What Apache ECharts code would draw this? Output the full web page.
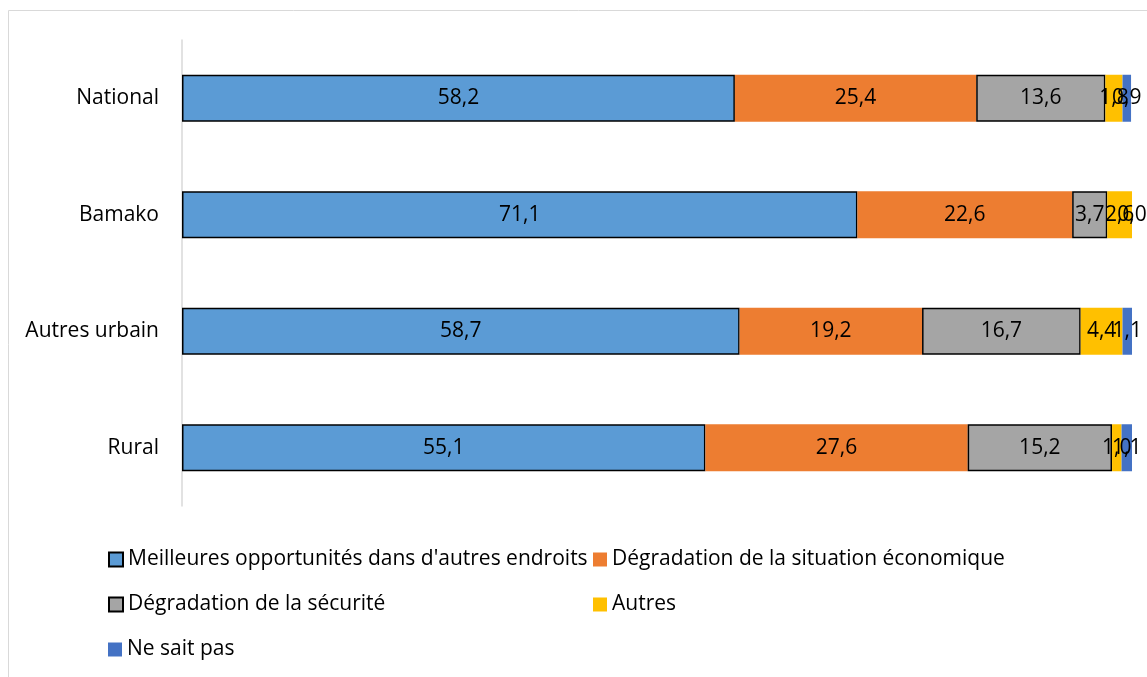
<!DOCTYPE html>
<html><head><meta charset="utf-8">
<script src="https://cdn.jsdelivr.net/npm/echarts@6/dist/echarts.min.js"></script>
<style>html,body{margin:0;padding:0;background:#fff}#c{width:1147px;height:677px}</style>
</head><body><div id="c"></div>
<script>
const categories = ['National', 'Bamako', 'Autres urbain', 'Rural'];
const seriesNames = [
  "Meilleures opportunités dans d'autres endroits",
  "Dégradation de la situation économique",
  "Dégradation de la sécurité",
  "Autres",
  "Ne sait pas"
];
const opportunites = [58.2, 71.1, 58.7, 55.1];
const economique = [25.4, 22.6, 19.2, 27.6];
const securite = [13.6, 3.7, 16.7, 15.2];
const autres = [1.8, 2.6, 4.4, 1.0];
const neSaitPas = [0.9, 0.0, 1.1, 1.1];

const values = [opportunites, economique, securite, autres, neSaitPas];
const colors = ['#5B9BD5', '#ED7D31', '#A5A5A5', '#FFC000', '#4472C4'];
const bordered = [true, false, true, false, false];
const FONT = 'Open Sans';
const FS = 21;

const series = values.map((v, i) => ({
  name: seriesNames[i],
  type: 'bar',
  stack: 'total',
  barWidth: 47,
  data: v,
  itemStyle: {
    color: colors[i],
    borderColor: bordered[i] ? '#000' : colors[i],
    borderWidth: bordered[i] ? 1.5 : 0
  },
  label: {
    show: true,
    position: 'inside',
    color: '#000',
    fontFamily: FONT,
    fontSize: FS,
    formatter: p => p.value.toFixed(1).replace('.', ',')
  }
}));

const legendPos = [
  {left: 103, top: 544},
  {left: 588, top: 544},
  {left: 103, top: 589},
  {left: 588, top: 589},
  {left: 103, top: 634}
];
const legends = seriesNames.map((n, i) => ({
  data: [n],
  left: legendPos[i].left,
  top: legendPos[i].top,
  itemWidth: 14,
  itemHeight: 14,
  itemGap: 0,
  icon: 'rect',
  selectedMode: false,
  textStyle: {fontFamily: FONT, fontSize: FS, color: '#000'}
}));

const chart = echarts.init(document.getElementById('c'), null, {renderer: 'canvas'});
chart.setOption({
  animation: false,
  graphic: [{
    type: 'rect',
    shape: {x: 8.5, y: 10.5, width: 1300, height: 1000},
    style: {fill: 'none', stroke: '#d9d9d9', lineWidth: 1},
    silent: true, z: -10
  }],
  grid: {left: 182, right: 15, top: 40, bottom: 171},
  xAxis: {
    type: 'value', min: 0, max: 100, show: false
  },
  yAxis: {
    type: 'category',
    data: categories,
    inverse: true,
    axisLine: {show: true, lineStyle: {color: '#d9d9d9', width: 1.5}},
    axisTick: {show: false},
    axisLabel: {fontFamily: FONT, fontSize: FS, color: '#000', margin: 23}
  },
  legend: legends,
  series: series
});
</script></body></html>
